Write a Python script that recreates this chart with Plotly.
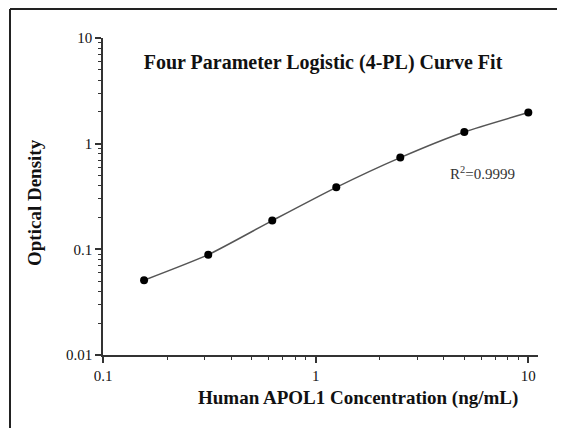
import plotly.graph_objects as go

# Data
concentration = [0.156, 0.3125, 0.625, 1.25, 2.5, 5, 10]
optical_density = [0.051, 0.089, 0.187, 0.386, 0.738, 1.29, 1.97]

x_tick_vals = [0.1, 1, 10]
x_tick_text = ["0.1", "1", "10"]
y_tick_vals = [0.01, 0.1, 1, 10]
y_tick_text = ["0.01", "0.1", "1", "10"]
minor_multipliers = [2, 3, 4, 5, 6, 7, 8, 9]
x_decades = [0.1, 1, 10]
y_decades = [0.01, 0.1, 1]

x_minor = [d * m for d in x_decades for m in minor_multipliers if d * m <= 11.1]
y_minor = [d * m for d in y_decades for m in minor_multipliers]

FONT = "Liberation Serif"
TXT = "#111111"

# page body adds an 8px offset; layout numbers below are in reference pixels
OFF = 8
W, H = 565 - OFF, 428 - OFF
PL, PR, PT, PB = 103, 538, 38, 355  # plot area in reference pixels


def px(xr):
    return (xr - PL) / (PR - PL)


def py(yr):
    return (PB - yr) / (PB - PT)


fig = go.Figure()
fig.add_trace(go.Scatter(
    x=concentration, y=optical_density, mode="lines",
    line=dict(color="#555555", width=1.5, shape="spline", smoothing=0.6),
    showlegend=False, hoverinfo="skip",
))
fig.add_trace(go.Scatter(
    x=concentration, y=optical_density, mode="markers",
    marker=dict(color="black", size=8),
    showlegend=False,
))

axis_common = dict(
    type="log", showgrid=False, zeroline=False, showline=True,
    linecolor="#333", linewidth=1.5, ticks="outside", ticklen=6, tickwidth=1.5,
    tickcolor="#333", mirror=False,
    tickfont=dict(family=FONT, size=15, color=TXT),
)

fig.update_xaxes(
    **axis_common,
    range=[-1, 1.0455],
    tickvals=x_tick_vals, ticktext=x_tick_text,
    minor=dict(tickvals=x_minor, ticks="outside", ticklen=3, tickwidth=1.2, tickcolor="#333"),
)
fig.update_yaxes(
    **axis_common,
    range=[-2, 1],
    tickvals=y_tick_vals, ticktext=y_tick_text,
    minor=dict(tickvals=y_minor, ticks="outside", ticklen=3, tickwidth=1.2, tickcolor="#333"),
)

fig.update_layout(
    width=W, height=H,
    margin=dict(l=PL - OFF, r=565 - PR, t=PT - OFF, b=428 - PB),
    paper_bgcolor="white", plot_bgcolor="white",
    title=dict(text="<b>Four Parameter Logistic (4-PL) Curve Fit</b>",
               font=dict(family=FONT, size=20, color=TXT),
               x=(323 - OFF) / W, xanchor="center", y=1 - (62 - OFF) / H, yanchor="middle"),
    annotations=[
        dict(text="R<sup>2</sup>=0.9999", xref="paper", yref="paper",
             x=px(482), y=py(173), xanchor="center", yanchor="middle",
             showarrow=False, font=dict(family=FONT, size=15, color="#333")),
        dict(text="<b>Human APOL1 Concentration (ng/mL)</b>", xref="paper", yref="paper",
             x=px(358), y=py(398), xanchor="center", yanchor="middle",
             showarrow=False, font=dict(family=FONT, size=19, color=TXT)),
        dict(text="<b>Optical Density</b>", xref="paper", yref="paper", textangle=-90,
             x=px(34), y=py(203), xanchor="center", yanchor="middle",
             showarrow=False, font=dict(family=FONT, size=19, color=TXT)),
    ],
    shapes=[
        dict(type="line", xref="paper", yref="paper",
             x0=px(10), x1=px(10), y0=py(9), y1=py(440),
             line=dict(color="#222", width=2)),
        dict(type="line", xref="paper", yref="paper",
             x0=px(10), x1=px(580), y0=py(9), y1=py(9),
             line=dict(color="#222", width=2)),
    ],
)

fig.write_html("out.html")
